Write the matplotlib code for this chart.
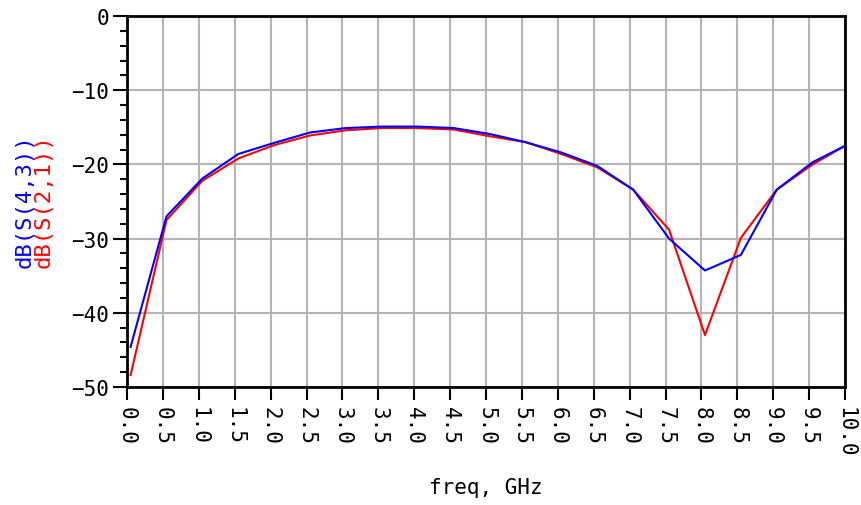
import matplotlib
matplotlib.use("Agg")
import matplotlib.pyplot as plt
import numpy as np

freq = [0.05, 0.55, 1.05, 1.55, 2.05, 2.55, 3.05, 3.55, 4.05, 4.55,
        5.05, 5.55, 6.05, 6.55, 7.05, 7.55, 8.05, 8.55, 9.05, 9.55, 10.0]
s43 = [-44.6, -27.0, -21.9, -18.6, -17.1, -15.7, -15.1, -14.9, -14.9, -15.1,
       -15.9, -17.0, -18.4, -20.2, -23.4, -30.0, -34.3, -32.2, -23.4, -19.7, -17.5]
s21 = [-48.4, -27.5, -22.2, -19.2, -17.4, -16.1, -15.4, -15.1, -15.1, -15.3,
       -16.2, -17.0, -18.6, -20.4, -23.4, -28.8, -43.0, -29.9, -23.4, -20.0, -17.5]

xticks = [i * 0.5 for i in range(21)]
xticklabels = [f"{v:.1f}" for v in xticks]
yticks = [0, -10, -20, -30, -40, -50]

FONT = "DejaVu Sans Mono"
plt.rcParams['font.family'] = FONT

fig = plt.figure(figsize=(8.61, 5.06), dpi=100)
ax = fig.add_axes([127/861, 1 - 388/506, (845 - 127)/861, (388 - 17)/506])

ax.plot(freq, s21, color='#ff0000', lw=1.5, zorder=3)
ax.plot(freq, s43, color='#0000ff', lw=1.5, zorder=4)

ax.set_xlim(0, 10)
ax.set_ylim(-50, 0)
ax.set_xticks(xticks)
ax.set_xticklabels(xticklabels, rotation=-90, fontsize=15)
ax.set_yticks(yticks)
ax.set_yticklabels([f"{v}".replace('-', '\u2212') for v in yticks], fontsize=15)
ax.set_yticks(np.arange(-50, 1, 2), minor=True)

ax.grid(True, which='major', color='#b4b4b4', lw=1.5, zorder=1)
ax.tick_params(axis='x', which='major', direction='out', length=9, width=1.5, pad=5, colors='black')
ax.tick_params(axis='y', which='major', direction='out', length=10, width=1.5, pad=3, colors='black')
ax.tick_params(axis='y', which='minor', direction='out', length=5, width=1.5)
for s in ax.spines.values():
    s.set_linewidth(2)
    s.set_color('black')

ax.set_xlabel("freq, GHz", fontsize=15)
ax.xaxis.set_label_coords(0.5, (388 - 488) / 371)
ax.xaxis.label.set_va('center')

fig.text(25/861, 1 - 201/506, "dB(S(4,3))", color='#0000ff', rotation=90,
         fontsize=16, ha='center', va='center')
fig.text(44/861, 1 - 201/506, "dB(S(2,1))", color='#ff0000', rotation=90,
         fontsize=16, ha='center', va='center')

fig.savefig("out.png", dpi=100)
